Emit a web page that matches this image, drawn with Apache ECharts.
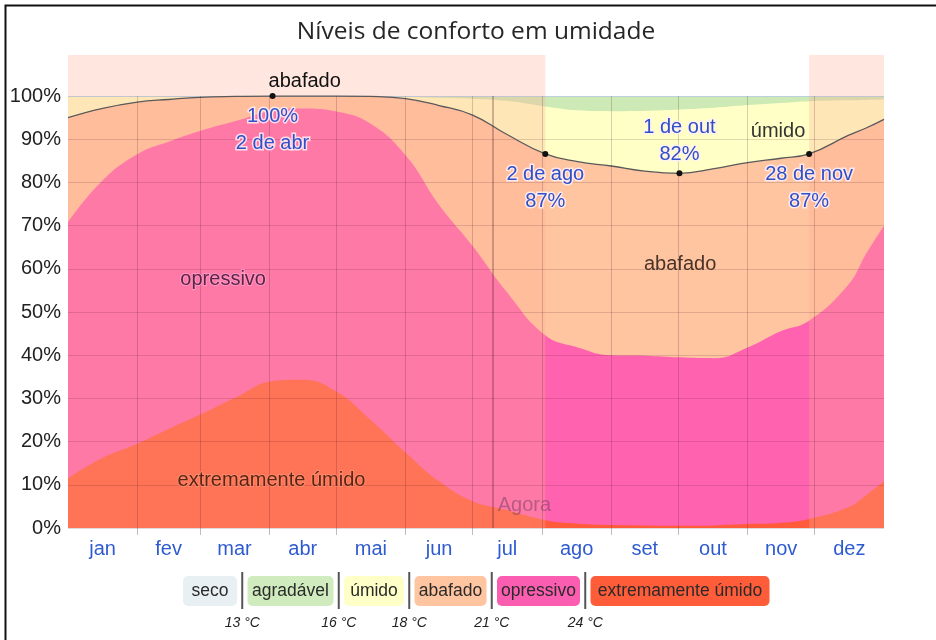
<!DOCTYPE html>
<html>
<head>
<meta charset="utf-8">
<script src="https://cdn.jsdelivr.net/npm/echarts@6/dist/echarts.min.js"></script>
<style>
  html, body { margin: 0; padding: 0; background: #fff; }
  #chart { width: 936px; height: 640px; }
</style>
</head>
<body>
<div id="chart"></div>
<script>
// dia do ano (0 = 1 de jan) e limites superiores de cada faixa (%)
const DAYS      = [0, 15, 31, 45, 59, 75, 91.5, 105, 120, 135, 151, 166, 181, 196, 213.5, 228, 243, 258, 273.5, 289, 304, 319, 331.5, 349, 357, 365];
const EXTREMO   = [11.5, 16.1, 19.5, 22.9, 26.2, 30.2, 34.0, 34.3, 31.6, 25.2, 17.5, 10.8, 6.2, 4.2, 1.8, 1.0, 0.7, 0.6, 0.5, 0.6, 0.9, 1.2, 2.1, 4.8, 7.6, 10.8];
const OPRESSIVO = [70.8, 80.2, 86.5, 89.4, 91.9, 94.2, 96.6, 97.1, 96.4, 93.7, 86.3, 74.8, 65.3, 54.8, 44.6, 41.8, 40.0, 39.9, 39.5, 39.3, 41.8, 45.6, 48.0, 56.3, 63.5, 70.0];
const ABAFADO   = [95.0, 97.1, 98.6, 99.2, 99.7, 99.9, 100, 100, 100, 99.9, 99.4, 97.8, 95.6, 91.2, 86.6, 84.8, 83.8, 82.6, 82.1, 83.2, 84.6, 85.6, 86.6, 90.9, 92.6, 94.6];
const UMIDO     = [99.8, 99.8, 99.8, 99.8, 99.8, 99.8, 99.8, 99.8, 99.8, 99.8, 99.8, 99.6, 99.4, 98.9, 97.6, 96.7, 96.5, 96.6, 96.9, 97.3, 97.9, 98.4, 98.8, 99.0, 99.1, 99.2];
const AGRADAVEL = [99.8, 99.8, 99.8, 99.8, 99.8, 99.8, 99.8, 99.8, 99.8, 99.8, 99.8, 99.8, 99.8, 99.8, 99.8, 99.8, 99.8, 99.8, 99.8, 99.8, 99.8, 99.8, 99.8, 99.8, 99.8, 99.8];
const SECO      = [100, 100, 100, 100, 100, 100, 100, 100, 100, 100, 100, 100, 100, 100, 100, 100, 100, 100, 100, 100, 100, 100, 100, 100, 100, 100];

const MONTHS      = ['jan', 'fev', 'mar', 'abr', 'mai', 'jun', 'jul', 'ago', 'set', 'out', 'nov', 'dez'];
const MONTH_START = [0, 31, 59, 90, 120, 151, 181, 212, 243, 273, 304, 334, 365];
const MONTH_MID   = [15.5, 45, 74.5, 105, 135.5, 166, 196.5, 227.5, 258, 288.5, 319, 349.5];

const LEVELS = ['seco', 'agradável', 'úmido', 'abafado', 'opressivo', 'extremamente úmido'];
const TEMPS  = ['13 °C', '16 °C', '18 °C', '21 °C', '24 °C'];

// período abafado (faixa no topo) e "agora"
const MUGGY_SPANS = [[0, 213.5], [331.5, 365]];
const NOW_DAY = 190;
const Y_MAX = 109.5;

// destaques sobre a linha de abafado
const HIGHLIGHT_DAYS  = [91.5, 213.5, 273.5, 331.5];
const HIGHLIGHT_TEXT  = ['100%\n2 de abr', '2 de ago\n87%', '1 de out\n82%', '28 de nov\n87%'];
const HIGHLIGHT_ABOVE = [false, false, true, false];

const C = {
  seco: '#e4edf2', agradavel: '#cde9b5', umido: '#ffffc6', abafado: '#ffc4a0',
  opressivo: '#ff63af', extremo: '#ff5b3b', blue: '#3050c8', grid: 'rgba(60,20,40,0.16)'
};
const LEGEND_COLORS = ['#e9f0f3', '#d0ecbe', '#ffffc8', '#ffc4a0', '#fb5eb0', '#ff5c3a'];
const FONT = '"Liberation Sans", Arial, sans-serif';

const chart = echarts.init(document.getElementById('chart'));

function areaSeries(name, values, color, extra) {
  return Object.assign({
    name: name,
    type: 'line',
    data: DAYS.map((d, i) => [d, values[i]]),
    smooth: 0.45,
    symbol: 'none',
    silent: true,
    lineStyle: { width: 0 },
    areaStyle: { color: color, opacity: 1 }
  }, extra || {});
}

// legenda: caixas coloridas, separadores e temperaturas
const LEGEND_FONT = '17.5px ' + FONT;
const BOX_W = [54, 86, 60, 72, 83, 179];
const BOX_GAP = 10.5;
let lx = 183;
const legendEls = [];
const seps = [];
LEVELS.forEach((name, i) => {
  legendEls.push({ type: 'rect', shape: { x: lx, y: 576, width: BOX_W[i], height: 30, r: 5 }, style: { fill: LEGEND_COLORS[i] } });
  legendEls.push({ type: 'text', x: lx + BOX_W[i] / 2, y: 591, style: { text: name, font: LEGEND_FONT, fill: '#2a2a2a', align: 'center', verticalAlign: 'middle' } });
  lx += BOX_W[i];
  if (i < LEVELS.length - 1) { seps.push(lx + BOX_GAP / 2); lx += BOX_GAP; }
});
seps.forEach((sx, i) => {
  legendEls.push({ type: 'line', shape: { x1: sx, y1: 572, x2: sx, y2: 609 }, style: { stroke: '#555', lineWidth: 2 } });
  legendEls.push({ type: 'text', x: sx, y: 623.5, style: { text: TEMPS[i], font: 'italic 14px ' + FONT, fill: '#222', align: 'center', verticalAlign: 'middle' } });
});

const labelHalo = { textBorderColor: 'rgba(255,240,245,0.85)', textBorderWidth: 3 };

// véu claro do período abafado, acima das áreas
const muggyData = [];
MUGGY_SPANS.forEach(s => { muggyData.push([s[0], Y_MAX], [s[1], Y_MAX], [s[1], '-']); });

chart.setOption({
  animation: false,
  textStyle: { fontFamily: FONT },
  title: {
    text: 'Níveis de conforto em umidade',
    left: 471, top: 15, textAlign: 'center',
    textStyle: { fontFamily: '"Open Sans", sans-serif', fontSize: 24.5, fontWeight: 'normal', color: '#262626' }
  },
  grid: { left: 68, right: 52, top: 55, bottom: 112 },
  xAxis: {
    type: 'value', min: 0, max: 365,
    axisLine: { show: false },
    axisTick: { show: true, customValues: MONTH_START.slice(1, -1), length: 7, lineStyle: { color: 'rgba(0,0,0,0.25)' } },
    axisLabel: {
      customValues: MONTH_MID, margin: 11, fontSize: 20, color: '#2f5bd0',
      formatter: v => MONTHS[MONTH_MID.indexOf(v)]
    },
    splitLine: { show: false }
  },
  yAxis: {
    type: 'value', min: 0, max: Y_MAX, interval: 10, z: 4,
    axisLine: { show: false }, axisTick: { show: false },
    axisLabel: { fontSize: 20, color: '#222', margin: 7, formatter: v => v > 100 ? '' : v + '%' },
    splitLine: {
      show: true, showMaxLine: false,
      lineStyle: { color: [C.grid, C.grid, C.grid, C.grid, C.grid, C.grid, C.grid, C.grid, C.grid, C.grid, 'rgba(150,180,200,0.5)', 'rgba(0,0,0,0)'] }
    }
  },
  series: [
    areaSeries('seco', SECO, C.seco),
    areaSeries('agradável', AGRADAVEL, C.agradavel),
    areaSeries('úmido', UMIDO, C.umido, {
      markPoint: {
        symbol: 'circle', symbolSize: 0, silent: true,
        data: [{ coord: [317.6, 91.9], label: { show: true, position: 'inside', formatter: 'úmido', fontSize: 20, color: '#333' } }]
      }
    }),
    areaSeries('abafado', ABAFADO, C.abafado, {
      markPoint: {
        symbol: 'circle', symbolSize: 0, silent: true,
        data: [{ coord: [273.8, 61.1], label: { show: true, position: 'inside', formatter: 'abafado', fontSize: 20, color: '#4a3428' } }]
      }
    }),
    areaSeries('opressivo', OPRESSIVO, C.opressivo, {
      markPoint: {
        symbol: 'circle', symbolSize: 0, silent: true,
        data: [{ coord: [69.4, 57.6], label: { show: true, position: 'inside', formatter: 'opressivo', fontSize: 20, color: '#5b2348', textBorderColor: 'rgba(255,170,210,0.6)', textBorderWidth: 2 } }]
      }
    }),
    areaSeries('extremamente úmido', EXTREMO, C.extremo, {
      markLine: {
        silent: true, symbol: 'none',
        label: { show: false },
        lineStyle: { color: 'rgba(60,20,40,0.2)', width: 1, type: 'solid' },
        data: MONTH_START.slice(1, -1).map(d => [{ coord: [d, 0] }, { coord: [d, 100] }]).concat([
          [{ coord: [NOW_DAY, 0], lineStyle: { color: 'rgba(60,20,40,0.35)', width: 1.5 } }, { coord: [NOW_DAY, 100] }]
        ])
      },
      markPoint: {
        symbol: 'circle', symbolSize: 0, silent: true,
        data: [
          { coord: [91, 10.9], label: { show: true, position: 'inside', formatter: 'extremamente úmido', fontSize: 20, color: '#5a2515', textBorderColor: 'rgba(255,150,120,0.6)', textBorderWidth: 2 } },
          { coord: [NOW_DAY, 5.3], label: { show: true, position: 'right', distance: 5, formatter: 'Agora', fontSize: 20, color: 'rgba(110,60,95,0.5)' } }
        ]
      }
    }),
    {
      name: 'período abafado',
      type: 'line', z: 3, silent: true,
      data: muggyData,
      symbol: 'none',
      lineStyle: { width: 0 },
      areaStyle: { color: 'rgba(255,172,150,0.3)', opacity: 1 }
    },
    {
      // contorno do limite abafado, por cima do véu
      name: 'abafado (limite)',
      type: 'line', z: 4, silent: true,
      data: DAYS.map((d, i) => [d, ABAFADO[i]]),
      smooth: 0.45,
      symbol: 'none',
      lineStyle: { width: 1.3, color: '#5a5a5a' },
      markPoint: {
        silent: true,
        data: HIGHLIGHT_DAYS.map((d, i) => ({
          coord: [d, ABAFADO[DAYS.indexOf(d)]],
          symbol: 'circle', symbolSize: 6,
          itemStyle: { color: '#111' },
          label: Object.assign({
            show: true, formatter: HIGHLIGHT_TEXT[i],
            position: HIGHLIGHT_ABOVE[i] ? 'top' : 'bottom', distance: HIGHLIGHT_ABOVE[i] ? 2 : 4,
            color: C.blue, fontSize: 20, lineHeight: 27, align: 'center'
          }, labelHalo)
        })).concat([
          { coord: [91.5, 100], symbol: 'circle', symbolSize: 0,
            label: { show: true, formatter: 'abafado', position: 'top', distance: 5, align: 'left', offset: [-4, 0], fontSize: 20, color: '#111' } }
        ])
      }
    }
  ],
  graphic: [
    { type: 'rect', z: -1, shape: { x: 5.5, y: 5.5, width: 1000, height: 1000 }, style: { fill: 'none', stroke: '#111', lineWidth: 2 } }
  ].concat(legendEls)
});
</script>
</body>
</html>
